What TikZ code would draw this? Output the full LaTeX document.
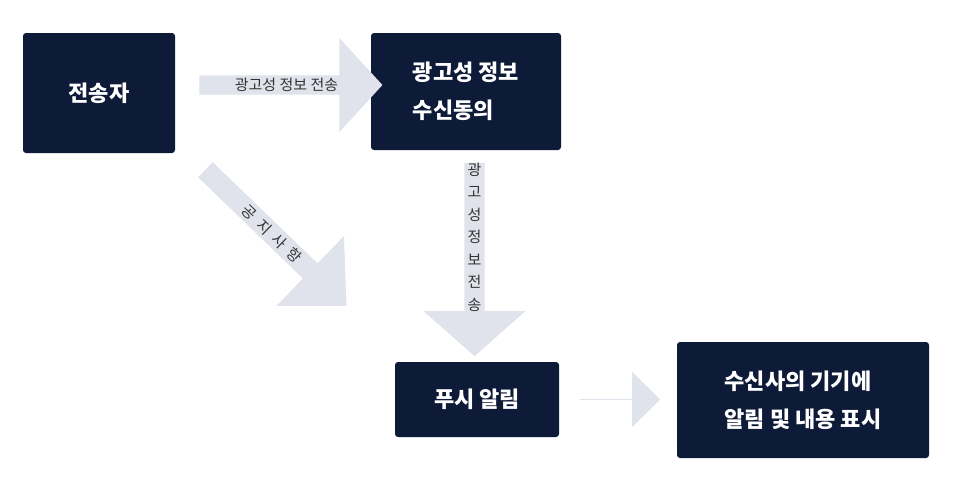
\documentclass[tikz,border=0pt]{standalone}
\usepackage{fontspec}
\setmainfont{Noto Sans CJK KR}
\usetikzlibrary{shapes.arrows, positioning}

\definecolor{navy}{HTML}{0E1B38}
\definecolor{pale}{HTML}{E0E3EB}

\tikzset{
    box/.style={fill=navy, text=white, rounded corners=3pt, inner sep=0pt,
        font=\fontsize{22}{38}\selectfont\bfseries},
    fat/.style={shape=single arrow, fill=pale, inner sep=0pt, text=black!80,
        font=\fontsize{15}{19}\selectfont}
}

\begin{document}
\begin{tikzpicture}[x=1pt, y=-1pt]

    \useasboundingbox[fill=white] (0,0) rectangle (962,479);

    % boxes
    \node[box, minimum width=152pt, minimum height=120pt] (sender) at (99,93) {전송자};
    \node[box, minimum width=190pt, minimum height=117pt, align=left] (consent) at (466,91.5) {광고성 정보\\수신동의};
    \node[box, minimum width=164pt, minimum height=75pt] (push) at (477,399.5) {푸시 알림};
    \node[box, minimum width=252pt, minimum height=116pt, align=left] (device) at (803,400) {수신사의 기기에\\알림 및 내용 표시};

    % block arrows
    \node[fat, minimum width=94pt, minimum height=183pt, single arrow head extend=27pt,
        single arrow tip angle=95] (adsend) at (286.5,85) {광고성 정보 전송\hspace{35pt}};
    \node[fat, minimum width=102pt, minimum height=186pt, single arrow head extend=28.5pt,
        single arrow tip angle=97, shape border rotate=270, align=center,
        font=\fontsize{15}{22.5}\selectfont] (adsend2) at (474.5,255) {광\\고\\성\\정\\보\\전\\송\\[14pt]};
    \node[fat, minimum width=97pt, minimum height=196pt, single arrow head extend=25.5pt,
        single arrow tip angle=88, rotate=-44] (notice) at (272,234) {공\hspace{7pt}지\hspace{7pt}사\hspace{7pt}항\hspace{40pt}};
    \node[fat, minimum width=55pt, minimum height=80pt, single arrow head extend=12.5pt,
        single arrow tip angle=89] (show) at (620,399.5) {};

\end{tikzpicture}
\end{document}
